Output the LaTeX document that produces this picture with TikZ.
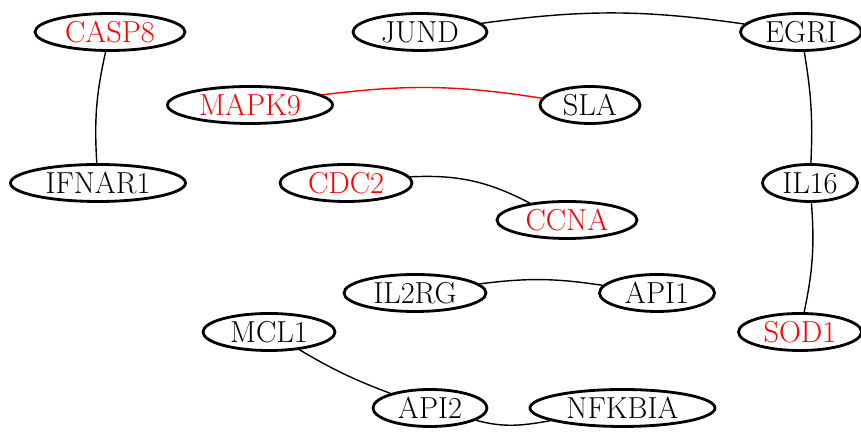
\documentclass[tikz,border=0pt]{standalone}
\usepackage{tikz}
\usetikzlibrary{shapes.geometric}
\begin{document}
\begin{tikzpicture}

% définition des styles
\tikzstyle{gene}=[ellipse,draw,line width=1.6pt,inner sep=0pt,minimum height=0.74cm,font=\LARGE]
\tikzstyle{rouge}=[text=red]
\tikzstyle{lien}=[-,line width=0.8pt]

\useasboundingbox (0,0) rectangle (17.22cm,8.7cm);

% les noeuds
\node [gene,rouge,minimum width=3.0cm] (CASP8) at (2.2cm,8.06cm){CASP8};
\node [gene,minimum width=3.5cm] (IFNAR1) at (1.96cm,5.04cm){IFNAR1};
\node [gene,minimum width=2.68cm] (JUND) at (8.4cm,8.06cm){JUND};
\node [gene,minimum width=2.42cm] (EGRI) at (16.02cm,8.06cm){EGRI};
\node [gene,rouge,minimum width=3.3cm] (MAPK9) at (5.0cm,6.6cm){MAPK9};
\node [gene,minimum width=2.0cm] (SLA) at (11.8cm,6.6cm){SLA};
\node [gene,rouge,minimum width=2.64cm] (CDC2) at (6.92cm,5.04cm){CDC2};
\node [gene,rouge,minimum width=2.8cm] (CCNA) at (11.34cm,4.3cm){CCNA};
\node [gene,minimum width=1.9cm] (IL16) at (16.2cm,5.04cm){IL16};
\node [gene,minimum width=2.84cm] (IL2RG) at (8.3cm,2.84cm){IL2RG};
\node [gene,minimum width=2.3cm] (API1) at (13.14cm,2.84cm){API1};
\node [gene,rouge,minimum width=2.46cm] (SOD1) at (16.0cm,2.06cm){SOD1};
\node [gene,minimum width=2.64cm] (MCL1) at (5.38cm,2.06cm){MCL1};
\node [gene,minimum width=2.28cm] (API2) at (8.6cm,0.54cm){API2};
\node [gene,minimum width=3.7cm] (NFKBIA) at (12.45cm,0.54cm){NFKBIA};

% les arcs
\draw[lien] (CASP8) to[bend right=8] (IFNAR1);
\draw[lien] (JUND) to[bend left=8] (EGRI);
\draw[lien,red] (MAPK9) to[bend left=8] (SLA);
\draw[lien] (CDC2) to[bend left=15] (CCNA);
\draw[lien] (IL2RG) to[bend left=8] (API1);
\draw[lien] (MCL1) to[bend right=5] (API2);
\draw[lien] (API2) to[out=-15,in=190] (NFKBIA);
\draw[lien] (EGRI) to[bend left=6] (IL16);
\draw[lien] (IL16) to[bend left=8] (SOD1);

\end{tikzpicture}
\end{document}
